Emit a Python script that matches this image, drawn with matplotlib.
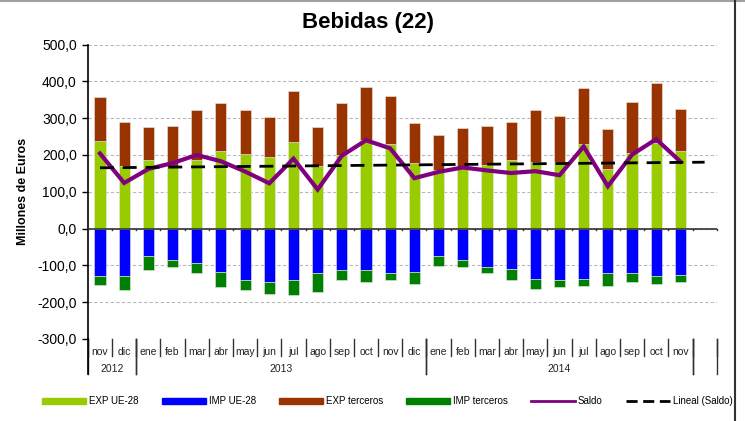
import numpy as np
import matplotlib.pyplot as plt
from matplotlib.lines import Line2D
from matplotlib.patches import Patch

plt.rcParams['font.family'] = ['Liberation Sans', 'DejaVu Sans']

# Monthly trade in beverages, millions of euros (nov 2012 - nov 2014)
meses = ['nov', 'dic', 'ene', 'feb', 'mar', 'abr', 'may', 'jun', 'jul', 'ago', 'sep', 'oct', 'nov',
         'dic', 'ene', 'feb', 'mar', 'abr', 'may', 'jun', 'jul', 'ago', 'sep', 'oct', 'nov', '']
anios = [('2012', 0, 2), ('2013', 2, 14), ('2014', 14, 25), ('', 25, 26)]

exp_ue = [239, 171, 185, 170, 185, 212, 203, 194, 236, 169, 200, 242, 231,
          178, 160, 165, 174, 187, 181, 181, 231, 162, 206, 233, 212]
exp_terceros = [119, 119, 92, 110, 138, 130, 120, 108, 138, 108, 140, 144, 128,
                108, 95, 107, 106, 102, 140, 124, 151, 109, 139, 162, 114]
imp_ue = [-130, -130, -74, -85, -95, -117, -141, -144, -141, -122, -114, -114, -120,
          -117, -74, -85, -104, -111, -137, -139, -137, -120, -120, -129, -126]
imp_terceros = [-24, -36, -39, -19, -25, -43, -25, -34, -41, -50, -27, -31, -21,
                -33, -27, -19, -16, -28, -27, -21, -20, -37, -25, -21, -19]
saldo = [204, 124, 162, 178, 200, 183, 155, 123, 190, 106, 198, 240, 218,
         137, 154, 166, 158, 151, 156, 145, 223, 115, 201, 243, 182]

n = len(exp_ue)
x = np.arange(n)
w = 0.46

fig = plt.figure(figsize=(7.45, 4.21), dpi=100)
ax = fig.add_axes([0.118, 0.195, 0.844, 0.699])

ec = '#e8e8e8'
ax.bar(x, exp_ue, w, color='#99CC00', edgecolor=ec, linewidth=0.4, zorder=2)
ax.bar(x, exp_terceros, w, bottom=exp_ue, color='#993300', edgecolor=ec, linewidth=0.4, zorder=2)
ax.bar(x, imp_ue, w, color='#0000FF', edgecolor=ec, linewidth=0.4, zorder=2)
ax.bar(x, imp_terceros, w, bottom=imp_ue, color='#008000', edgecolor=ec, linewidth=0.4, zorder=2)

ax.plot(x, saldo, color='#800080', lw=3, solid_joinstyle='miter', zorder=4)

# linear trend of the balance, projected one month ahead
coef = np.polyfit(x, saldo, 1)
xt = np.arange(n + 1)
ax.plot(xt, np.polyval(coef, xt), color='black', lw=2, dashes=(5, 3.2), zorder=5)

ax.set_xlim(-0.5, len(meses) - 0.5)
ax.set_ylim(-300, 500)
ax.set_yticks(np.arange(-300, 501, 100))
ax.set_yticklabels([f'{v:.1f}'.replace('.', ',') for v in np.arange(-300, 501, 100)], fontsize=10)
ax.yaxis.grid(True, color='#b8b8b8', linestyle=(0, (3, 2)), linewidth=0.8)
ax.set_axisbelow(True)
for s in ['top', 'right', 'bottom']:
    ax.spines[s].set_visible(False)
ax.spines['left'].set_linewidth(1.2)
ax.tick_params(axis='y', length=4, width=1, pad=4)
ax.set_xticks([])
ax.axhline(0, color='#333333', lw=1.2, zorder=3)

# category ticks on the zero line
trans = ax.get_xaxis_transform()
for b in np.arange(len(meses) + 1) - 0.5:
    ax.plot([b, b], [0, -5], color='#333333', lw=1, zorder=3, clip_on=False)

ax.set_ylabel('Millones de Euros', fontsize=9, fontweight='bold', labelpad=6)
fig.text(0.494, 0.947, 'Bebidas (22)', ha='center', va='center', fontsize=16, fontweight='bold')

# two-level category labels below the plot
for i, m in enumerate(meses):
    ax.text(i, -0.044, m, transform=trans, ha='center', va='center', fontsize=7.5, color='#222222')
for b in np.arange(len(meses) + 1) - 0.5:
    ax.plot([b, b], [0, -0.058], transform=trans, color='#333333', lw=1, clip_on=False)
for lab, a, e in anios:
    ax.text((a + e - 1) / 2, -0.102, lab, transform=trans, ha='center', va='center', fontsize=7.5, color='#222222')
    for b in (a - 0.5, e - 0.5):
        ax.plot([b, b], [0, -0.119], transform=trans, color='#333333', lw=1, clip_on=False)
ax.plot([-0.5, -0.5], [0, -0.119], transform=trans, color='black', lw=1.2, clip_on=False)

handles = [Patch(color='#99CC00'), Patch(color='#0000FF'), Patch(color='#993300'),
           Patch(color='#008000'), Line2D([], [], color='#800080', lw=2),
           Line2D([], [], color='black', lw=2, dashes=(4, 2))]
labels = ['EXP UE-28', 'IMP UE-28', 'EXP terceros', 'IMP terceros', 'Saldo', 'Lineal (Saldo)']
fig.legend(handles, labels, loc='center', bbox_to_anchor=(0.52, 0.047), ncol=6, frameon=False,
           fontsize=7, handlelength=4.5, handleheight=0.6, columnspacing=2.4, handletextpad=0.3)

# chart frame
fig.add_artist(Line2D([0, 1], [0.998, 0.998], transform=fig.transFigure, color='#a0a0a0', lw=1.5))
fig.add_artist(Line2D([0.986, 0.986], [0, 1], transform=fig.transFigure, color='#333333', lw=1.5))

fig.savefig('out.png', dpi=100)
